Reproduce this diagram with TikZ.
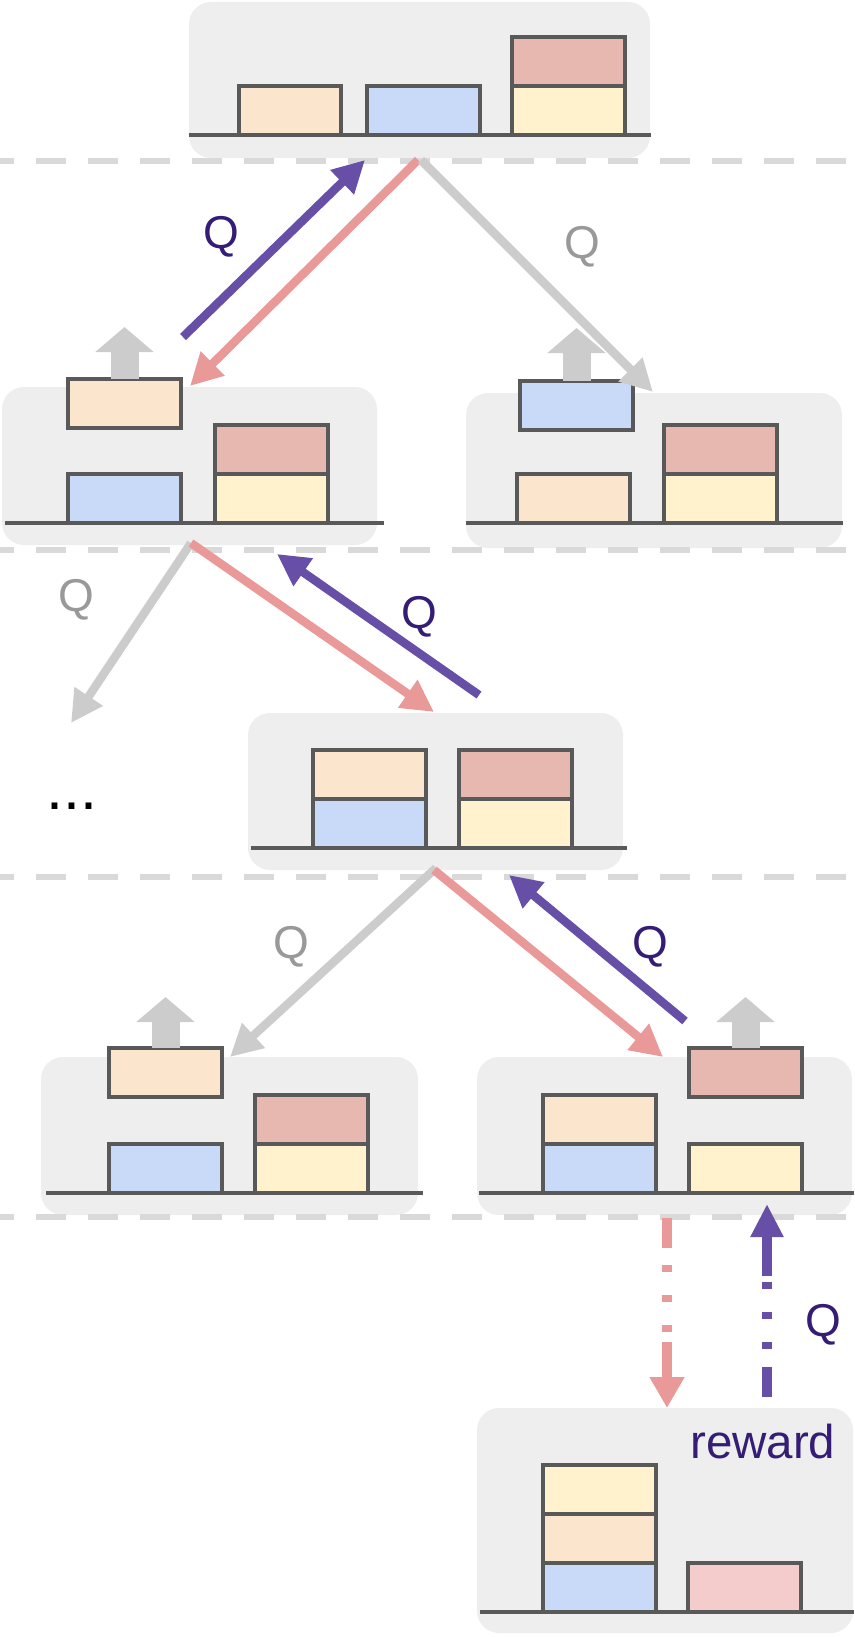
\documentclass[tikz,border=0pt]{standalone}
\usepackage{fontspec}
\setmainfont{Liberation Sans}
\usetikzlibrary{arrows.meta,positioning}

\begin{document}
\begin{tikzpicture}[x=1pt,y=-1pt,
  blk/.style={draw=edgegray,line width=3.4pt,minimum width=113pt,minimum height=49pt,inner sep=0pt,outer sep=0pt,anchor=south west},
  ground/.style={edgegray,line width=3.4pt},
  sep/.style={dashgray,line width=6pt,dash pattern=on 30pt off 22pt,dash phase=16pt},
  lift/.style={arrowgray,line width=28pt,-{Triangle[length=25pt,width=57pt]}},
  move/.style={line width=8.5pt,-{Triangle[length=32pt,width=32pt]}},
  qlab/.style={font=\fontsize{46}{46}\selectfont,inner sep=0pt}]
% Define colors
\definecolor{panelgray}{HTML}{EEEEEE}
\definecolor{edgegray}{HTML}{595959}
\definecolor{peach}{HTML}{FCE5CD}
\definecolor{skyblue}{HTML}{C9DAF8}
\definecolor{cream}{HTML}{FFF2CC}
\definecolor{rosebrown}{HTML}{E6B8AF}
\definecolor{pinkbox}{HTML}{F4CCCC}
\definecolor{dashgray}{HTML}{D9D9D9}
\definecolor{arrowgray}{HTML}{CCCCCC}
\definecolor{arrowpink}{HTML}{EA9999}
\definecolor{arrowpurple}{HTML}{674EA7}
\definecolor{qpurple}{HTML}{351C75}
\definecolor{qgray}{HTML}{999999}

\useasboundingbox (0,0) rectangle (854,1637);

% Panel backgrounds
\fill[panelgray,rounded corners=22pt] (189,2) rectangle (650,158);
\fill[panelgray,rounded corners=22pt] (2,387) rectangle (377,545);
\fill[panelgray,rounded corners=22pt] (466,393) rectangle (842,548);
\fill[panelgray,rounded corners=22pt] (248,713) rectangle (623,870);
\fill[panelgray,rounded corners=22pt] (41,1057) rectangle (418,1215);
\fill[panelgray,rounded corners=22pt] (477,1057) rectangle (852,1215);
\fill[panelgray,rounded corners=22pt] (477,1408) rectangle (853,1633);

% Level separators
\foreach \y in {161,550,877,1217}
  \draw[sep] (0,\y) -- (854,\y);

% Ground lines
\draw[ground] (189,135) -- (651,135);
\draw[ground] (5,523) -- (384,523);
\draw[ground] (466,523) -- (843,523);
\draw[ground] (251,848) -- (627,848);
\draw[ground] (46,1193) -- (423,1193);
\draw[ground] (479,1193) -- (854,1193);
\draw[ground] (480,1612) -- (854,1612);

% Root state
\node[blk,fill=peach,minimum width=102pt] (t1) at (239,135) {};
\node[blk,fill=skyblue] (t2) at (367,135) {};
\node[blk,fill=cream] (t3) at (512,135) {};
\node[blk,fill=rosebrown,above=0pt of t3] (t4) {};

% Second level, left: peach lifted
\node[blk,fill=skyblue] (l1) at (68,523) {};
\node[blk,fill=cream] (l2) at (215,523) {};
\node[blk,fill=rosebrown,above=0pt of l2] (l3) {};
\node[blk,fill=peach] (l4) at (68,428) {};
\coordinate (lt) at (124.5,327);
\draw[lift] (l4.north) -- (lt);

% Second level, right: blue lifted
\node[blk,fill=peach] (r1) at (517,523) {};
\node[blk,fill=cream] (r2) at (664,523) {};
\node[blk,fill=rosebrown,above=0pt of r2] (r3) {};
\node[blk,fill=skyblue] (r4) at (520,430) {};
\coordinate (rt) at (576.5,328);
\draw[lift] (r4.north) -- (rt);

% Third level
\node[blk,fill=skyblue] (m1) at (313,848) {};
\node[blk,fill=peach,above=0pt of m1] (m2) {};
\node[blk,fill=cream] (m3) at (459,848) {};
\node[blk,fill=rosebrown,above=0pt of m3] (m4) {};
\node[qlab,font=\fontsize{61}{61}\selectfont,anchor=base] (more) at (72,809) {...};

% Fourth level, left
\node[blk,fill=skyblue] (bl1) at (109,1193) {};
\node[blk,fill=cream] (bl2) at (255,1193) {};
\node[blk,fill=rosebrown,above=0pt of bl2] (bl3) {};
\node[blk,fill=peach] (bl4) at (109,1097) {};
\coordinate (blt) at (165.5,997);
\draw[lift] (bl4.north) -- (blt);

% Fourth level, right
\node[blk,fill=skyblue] (br1) at (543,1193) {};
\node[blk,fill=peach,above=0pt of br1] (br2) {};
\node[blk,fill=cream] (br3) at (689,1193) {};
\node[blk,fill=rosebrown] (br4) at (689,1097) {};
\coordinate (brt) at (745.5,997);
\draw[lift] (br4.north) -- (brt);

% Final state
\node[blk,fill=skyblue] (w1) at (543,1612) {};
\node[blk,fill=peach,above=0pt of w1] (w2) {};
\node[blk,fill=cream,above=0pt of w2] (w3) {};
\node[blk,fill=pinkbox] (w4) at (688,1612) {};
\node[qlab,font=\fontsize{47.5}{47.5}\selectfont,qpurple,anchor=base west] (reward) at (690,1458) {reward};

% Arrow end points
\coordinate (a1) at (183,337);  \coordinate (a2) at (365,160);
\coordinate (a3) at (418,160);  \coordinate (a4) at (190,386);
\coordinate (a5) at (421,160);  \coordinate (a6) at (653,392);
\coordinate (b1) at (191,543);  \coordinate (b2) at (71,723);
\coordinate (b3) at (434,712);
\coordinate (b4) at (479,695);  \coordinate (b5) at (277,554);
\coordinate (c1) at (436,868);  \coordinate (c2) at (230,1057);
\coordinate (c3) at (434,870);  \coordinate (c4) at (663,1057);
\coordinate (c5) at (685,1021); \coordinate (c6) at (509,875);
\coordinate (d1) at (667,1218); \coordinate (d2) at (667,1408);
\coordinate (d3) at (767,1397); \coordinate (d4) at (767,1204);

% Moves and backups
\draw[move,arrowpurple] (a1) -- (a2);
\draw[move,arrowpink] (a3) -- (a4);
\draw[move,arrowgray] (a5) -- (a6);
\draw[move,arrowgray] (b1) -- (b2);
\draw[move,arrowpink] (b1) -- (b3);
\draw[move,arrowpurple] (b4) -- (b5);
\draw[move,arrowgray] (c1) -- (c2);
\draw[move,arrowpink] (c3) -- (c4);
\draw[move,arrowpurple] (c5) -- (c6);

% Rollout and reward
\draw[arrowpink,line width=10.5pt,dash pattern=on 30pt off 17pt on 7pt off 23pt on 7pt off 23pt on 7pt off 10pt on 200pt,-{Triangle[length=31pt,width=33pt]}] (d1) -- (d2);
\draw[arrowpurple,line width=10.5pt,dash pattern=on 30pt off 18pt on 7pt off 23pt on 7pt off 23pt on 7pt off 6pt on 200pt,-{Triangle[length=33pt,width=31pt]}] (d3) -- (d4);

% Q labels
\node[qlab,qpurple] (q1) at (221,237) {Q};
\node[qlab,qgray] (q2) at (582,247) {Q};
\node[qlab,qgray] (q3) at (76,600) {Q};
\node[qlab,qpurple] (q4) at (419,617) {Q};
\node[qlab,qgray] (q5) at (291,947) {Q};
\node[qlab,qpurple] (q6) at (650,947) {Q};
\node[qlab,qpurple] (q7) at (823,1325) {Q};
\end{tikzpicture}
\end{document}
